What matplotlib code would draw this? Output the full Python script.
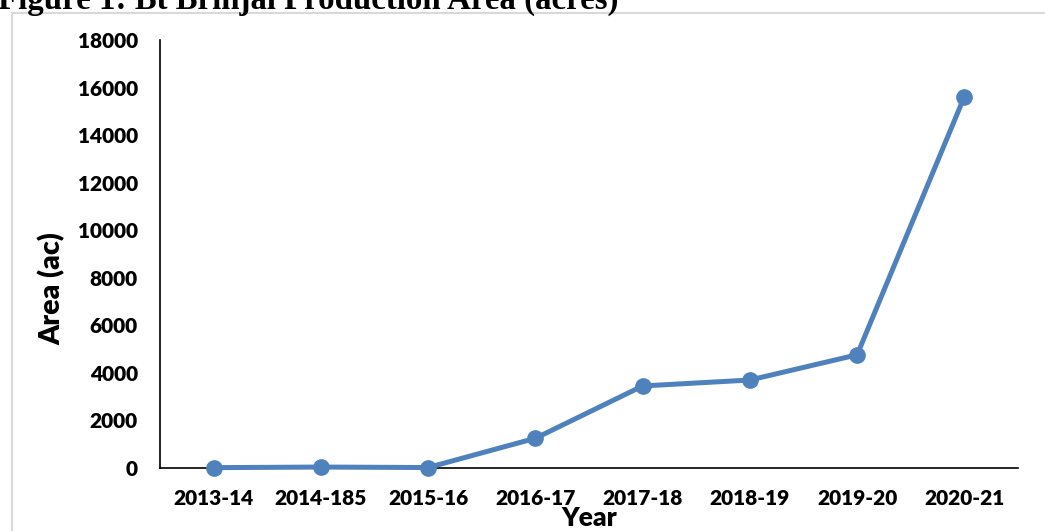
import matplotlib
matplotlib.use("Agg")
import matplotlib.pyplot as plt
from matplotlib.patches import Rectangle

# data
years = ["2013-14", "2014-185", "2015-16", "2016-17", "2017-18", "2018-19", "2019-20", "2020-21"]
area = [15, 40, 20, 1250, 3450, 3700, 4760, 15620]
yticks = list(range(0, 18001, 2000))

line_color = "#4F81BD"
tick_font = "Lato"

fig = plt.figure(figsize=(10.45, 5.31), dpi=100)
ax = fig.add_axes([160 / 1045, 1 - 468 / 531, (1018 - 160) / 1045, (468 - 40) / 531])

ax.plot(range(len(years)), area, color=line_color, lw=3.6, marker="o", ms=11,
        solid_capstyle="round", clip_on=False, zorder=3)

ax.set_xlim(-0.5, len(years) - 0.5)
ax.set_ylim(0, 18000)
ax.set_xticks(range(len(years)))
ax.set_xticklabels(years)
ax.set_yticks(yticks)
ax.set_yticklabels([str(t) for t in yticks])

for lab in ax.get_xticklabels() + ax.get_yticklabels():
    lab.set_fontfamily(tick_font)
    lab.set_fontweight("heavy")
    lab.set_fontsize(15)
ax.tick_params(axis="both", length=0)
ax.tick_params(axis="x", pad=15)
ax.tick_params(axis="y", pad=16)

for s in ["top", "right"]:
    ax.spines[s].set_visible(False)
for s in ["left", "bottom"]:
    ax.spines[s].set_linewidth(1.2)
    ax.spines[s].set_color("black")

fig.text(589 / 1045, 1 - 518 / 531, "Year", ha="center", va="center",
         family=tick_font, fontweight="heavy", fontsize=19)
fig.text(52 / 1045, 1 - 289 / 531, "Area (ac)", ha="center", va="center", rotation=90,
         family=tick_font, fontweight="heavy", fontsize=20.5)

# chart border (light gray frame, runs off the right and bottom edges)
fig.patches.append(Rectangle((12 / 1045, -0.1), 1.2, 1 - 13 / 531 + 0.1,
                             transform=fig.transFigure, fill=False,
                             edgecolor="#D9D9D9", lw=1.5))

# title, cropped at the top in the reference
fig.text(-2 / 1045, 1 - 9 / 531, "Figure 1: Bt Brinjal Production Area (acres)",
         ha="left", va="baseline", family="Liberation Serif", fontweight="bold", fontsize=23.7)

fig.savefig("out.png", dpi=100)
